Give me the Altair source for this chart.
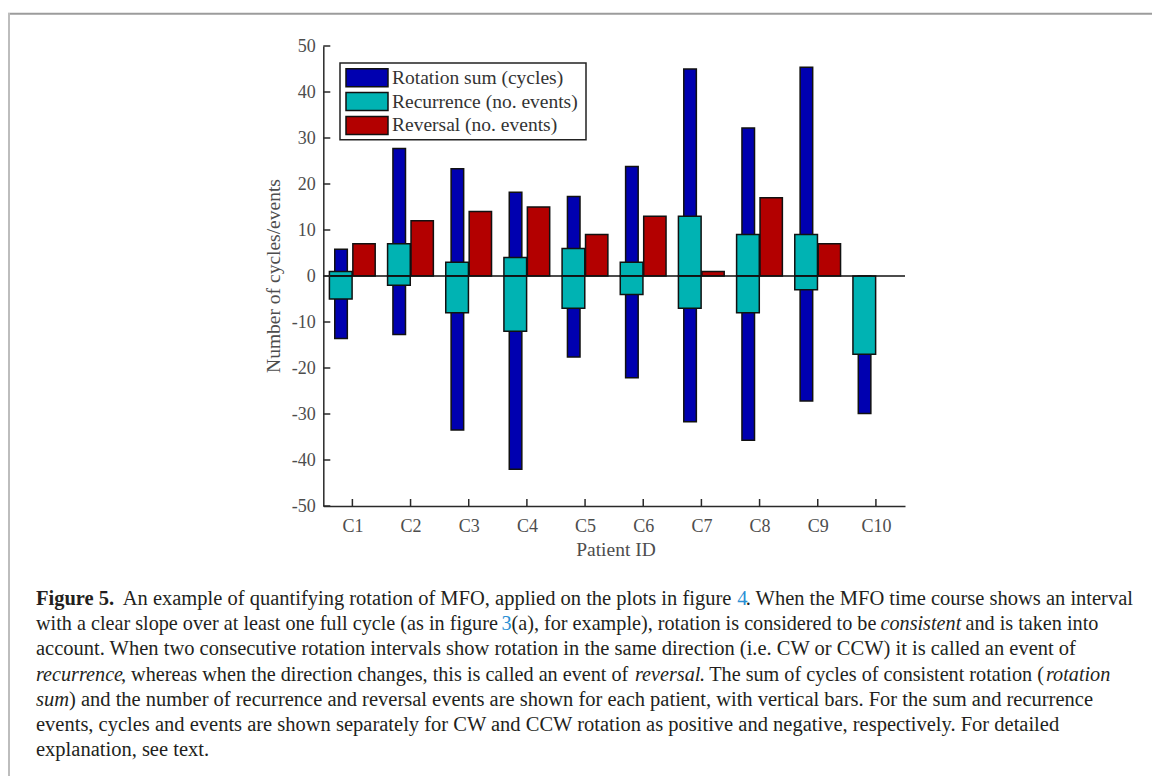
import json
import altair as alt
import pandas as pd

# ---------------- data ----------------
patients = ["C1", "C2", "C3", "C4", "C5", "C6", "C7", "C8", "C9", "C10"]
rot_cw = [5.8, 27.7, 23.3, 18.2, 17.3, 23.8, 45.0, 32.2, 45.4, 0]
rot_ccw = [-13.6, -12.7, -33.5, -42.0, -17.6, -22.1, -31.7, -35.7, -27.2, -29.9]
rec_cw = [1, 7, 3, 4, 6, 3, 13, 9, 9, 0]
rec_ccw = [-5, -2, -8, -12, -7, -4, -7, -8, -3, -17]
reversal = [7, 12, 14, 15, 9, 13, 1, 17, 7, 0]
series_names = ["Rotation sum (cycles)", "Recurrence (no. events)", "Reversal (no. events)"]
series_colors = ["#0000b0", "#00b3b3", "#b30000"]
y_ticks = [-50, -40, -30, -20, -10, 0, 10, 20, 30, 40, 50]
x_title = "Patient ID"
y_title = "Number of cycles/events"

# caption segments: text, x, baseline y, style, align, font size
caption = [
    ("Figure 5.", 36, 605, "bold", "left", 20.5),
    ("An example of quantifying rotation of MFO, applied on the plots in figure", 122.7, 605, "normal", "left", 20.5),
    ("4", 737.3, 605, "link", "left", 20.5),
    (". When the MFO time course shows an interval", 1133, 605, "normal", "right", 20.5),
    ("with a clear slope over at least one full cycle (as in figure", 36, 630.2, "normal", "left", 20.2),
    ("3", 501.5, 630.2, "link", "left", 20.2),
    ("(a), for example), rotation is considered to be", 511.5, 630.2, "normal", "left", 20.2),
    ("consistent", 880.5, 630.2, "italic", "left", 20.2),
    ("and is taken into", 965.5, 630.2, "normal", "left", 20.2),
    ("account. When two consecutive rotation intervals show rotation in the same direction (i.e. CW or CCW) it is called an event of", 36, 655.4, "normal", "left", 20.5),
    ("recurrence", 36, 680.6, "italic", "left", 20.2),
    (", whereas when the direction changes, this is called an event of", 121, 680.6, "normal", "left", 20.2),
    ("reversal", 635, 680.6, "italic", "left", 20.2),
    (". The sum of cycles of consistent rotation (", 699.5, 680.6, "normal", "left", 20.2),
    ("rotation", 1046, 680.6, "italic", "left", 20.2),
    ("sum", 36, 705.8, "italic", "left", 20.5),
    (") and the number of recurrence and reversal events are shown for each patient, with vertical bars. For the sum and recurrence", 69, 705.8, "normal", "left", 20.5),
    ("events, cycles and events are shown separately for CW and CCW rotation as positive and negative, respectively. For detailed", 36, 731, "normal", "left", 20.5),
    ("explanation, see text.", 36, 756.2, "normal", "left", 20.5),
]

# ---------------- layout ----------------
W, H = 581.7, 460
X0, Y0 = 323.3, 46.0
FW, FH = 1152, 776
SERIF = "Liberation Serif"
GRAY = "#4d4d4d"
BAR_SPAN = {0: (-0.303, -0.087), 1: (-0.395, -0.005), 2: (0.008, 0.392)}


def vx(a):
    return a - X0


def vy(a):
    return a - Y0


xs = alt.Scale(domain=[0.5, 10.5], nice=False, zero=False)
ys = alt.Scale(domain=[-50, 50], nice=False, zero=False)
cs = alt.Scale(domain=series_names, range=series_colors)

xaxis = alt.Axis(values=list(range(1, len(patients) + 1)),
                 labelExpr=json.dumps(patients) + "[round(datum.value) - 1]",
                 title=None, ticks=False, grid=False, labelFont=SERIF, labelFontSize=18,
                 labelColor=GRAY, labelPadding=11, domainColor="#2a2a2a", domainWidth=1.5,
                 labelAngle=0, labelFlush=False)
yaxis = alt.Axis(values=y_ticks, labelExpr="'' + datum.value", title=None, ticks=False,
                 grid=False, labelFont=SERIF, labelFontSize=18, labelColor=GRAY,
                 labelPadding=8, domainColor="#2a2a2a", domainWidth=1.5)

rows = []
for i in range(len(patients)):
    for s, val in ((0, rot_cw[i]), (0, rot_ccw[i]), (1, rec_cw[i]), (1, rec_ccw[i]), (2, reversal[i])):
        if val != 0:
            rows.append(dict(idx=i + 1, s=s, series=series_names[s], lo=0, hi=val))
bars = pd.DataFrame(rows)


def bar_layer(s):
    d = bars[bars.s == s].copy()
    d["xl"] = d.idx + BAR_SPAN[s][0]
    d["xr"] = d.idx + BAR_SPAN[s][1]
    return alt.Chart(d).mark_bar(stroke="#111", strokeWidth=1.5).encode(
        x=alt.X("xl:Q", scale=xs, axis=xaxis), x2="xr:Q",
        y=alt.Y("lo:Q", scale=ys, axis=yaxis), y2="hi:Q",
        color=alt.Color("series:N", scale=cs, legend=None))


zero = alt.Chart(pd.DataFrame({"v": [0]})).mark_rule(color="#111", strokeWidth=1.5).encode(
    y=alt.Y("v:Q", scale=ys, axis=yaxis), x=alt.value(0), x2=alt.value(W))
yt = alt.Chart(pd.DataFrame({"v": y_ticks})).mark_rule(color="#2a2a2a", strokeWidth=1.5).encode(
    y=alt.Y("v:Q", scale=ys, axis=yaxis), x=alt.value(0), x2=alt.value(7))
xt = alt.Chart(pd.DataFrame({"v": list(range(1, len(patients) + 1))})).mark_rule(
    color="#2a2a2a", strokeWidth=1.5).encode(
    x=alt.X("v:Q", scale=xs, axis=xaxis), y=alt.value(H), y2=alt.value(H - 7))

dummy = pd.DataFrame({"a": [0]})
frame_top = alt.Chart(dummy).mark_rule(color="#9c9c9c", strokeWidth=2).encode(
    x=alt.value(vx(8)), x2=alt.value(vx(FW)), y=alt.value(vy(13.8)))
frame_left = alt.Chart(dummy).mark_rule(color="#bdbdbd", strokeWidth=2).encode(
    x=alt.value(vx(9)), y=alt.value(vy(13)), y2=alt.value(vy(FH)))

# legend (drawn by hand, MATLAB-like box)
leg = pd.DataFrame({"series": series_names, "row": [0, 1, 2]})
leg["cy"] = vy(77.8) + 23.8 * leg.row
leg["y0"] = leg.cy - 9
leg["y1"] = leg.cy + 9
leg_box = alt.Chart(dummy).mark_rect(fill="white", stroke="#222", strokeWidth=1.5).encode(
    x=alt.value(vx(340)), x2=alt.value(vx(586)), y=alt.value(vy(63)), y2=alt.value(vy(139.7)))
leg_sw = alt.Chart(leg).mark_rect(stroke="#111", strokeWidth=1.5).encode(
    x=alt.value(vx(346)), x2=alt.value(vx(388)),
    y=alt.Y("y0:Q", scale=None), y2="y1:Q",
    color=alt.Color("series:N", scale=cs, legend=None))
leg_tx = alt.Chart(leg).mark_text(align="left", baseline="middle", font=SERIF, fontSize=19.5,
                                  color="#333").encode(
    x=alt.value(vx(392)), y=alt.Y("cy:Q", scale=None), text="series:N")

ytitle = alt.Chart(pd.DataFrame({"t": [y_title]})).mark_text(
    angle=270, align="center", baseline="middle", font=SERIF, fontSize=19.5, color=GRAY).encode(
    x=alt.value(vx(274)), y=alt.value(vy(276)), text="t:N")
xtitle = alt.Chart(pd.DataFrame({"t": [x_title]})).mark_text(
    align="center", baseline="middle", font=SERIF, fontSize=19.5, color=GRAY).encode(
    x=alt.value(vx(616)), y=alt.value(vy(550)), text="t:N")

STY = {"normal": dict(color="#231f20"),
       "bold": dict(color="#231f20", fontWeight="bold"),
       "italic": dict(color="#231f20", fontStyle="italic"),
       "link": dict(color="#2a8fd4")}
cap_layers = []
cap_df = pd.DataFrame(caption, columns=["t", "ax", "ay", "style", "align", "size"])
cap_df["px"] = cap_df.ax - X0
cap_df["py"] = cap_df.ay - Y0
for (style, align, size), g in cap_df.groupby(["style", "align", "size"]):
    cap_layers.append(
        alt.Chart(g[["t", "px", "py"]]).mark_text(align=align, baseline="alphabetic", font=SERIF,
                                                 fontSize=float(size), **STY[style]).encode(
            x=alt.X("px:Q", scale=None), y=alt.Y("py:Q", scale=None), text="t:N"))

chart = alt.layer(
    frame_top, frame_left, bar_layer(0), bar_layer(1), bar_layer(2), zero, yt, xt,
    leg_box, leg_sw, leg_tx, ytitle, xtitle, *cap_layers
).properties(
    width=W, height=H,
    padding={"left": X0, "top": Y0, "right": FW - X0 - W, "bottom": FH - Y0 - H},
    autosize=alt.AutoSizeParams(type="none"),
    background="white",
).configure_view(stroke=None)

chart.save("out.html", embed_options={"renderer": "svg", "actions": False})
